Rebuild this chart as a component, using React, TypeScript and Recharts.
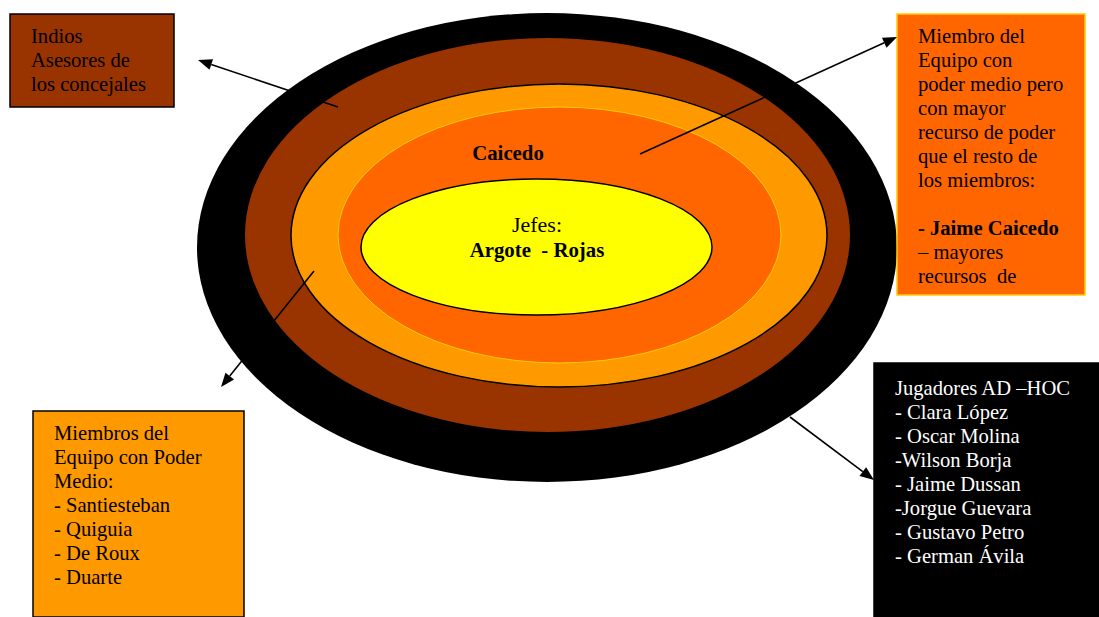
import React from 'react';
import { ComposedChart, XAxis, YAxis, ReferenceArea, ReferenceLine, Scatter } from 'recharts';

// ellipse rings, outer to inner (bounding boxes in diagram units)
const rings = [
  { key: 'adhoc', x1: 197, x2: 897, y1: 13, y2: 482 },
  { key: 'asesores', x1: 245, x2: 850, y1: 38, y2: 432 },
  { key: 'medio', x1: 291, x2: 827, y1: 84, y2: 387 },
  { key: 'caicedo', x1: 338, x2: 781, y1: 107, y2: 363 },
  { key: 'jefes', x1: 361, x2: 712, y1: 179, y2: 315 },
];

const indiosLines = ['Indios', 'Asesores de', 'los concejales'];
const caicedoLines = [
  'Miembro del',
  'Equipo con',
  'poder medio pero',
  'con mayor',
  'recurso de poder',
  'que el resto de',
  'los miembros:',
  '',
  '**- Jaime Caicedo',
  '– mayores',
  'recursos  de',
];
const adhocLines = [
  'Jugadores AD –HOC',
  '- Clara López',
  '- Oscar Molina',
  '-Wilson Borja',
  '- Jaime Dussan',
  '-Jorgue Guevara',
  '- Gustavo Petro',
  '- German Ávila',
];
const medioLines = [
  'Miembros del',
  'Equipo con Poder',
  'Medio:',
  '- Santiesteban',
  '- Quiguia',
  '- De Roux',
  '- Duarte',
];

const boxes = [
  { key: 'indios', x1: 10, x2: 174, y1: 14, y2: 107, lines: indiosLines },
  { key: 'caicedoBox', x1: 897, x2: 1085, y1: 14, y2: 295, lines: caicedoLines },
  { key: 'adhocBox', x1: 874, x2: 1099, y1: 363, y2: 617, lines: adhocLines },
  { key: 'medioBox', x1: 33, x2: 244, y1: 411, y2: 617, lines: medioLines },
];

const arrows = [
  { from: { x: 338, y: 107 }, to: { x: 198, y: 60 } },
  { from: { x: 640, y: 154 }, to: { x: 897, y: 37 } },
  { from: { x: 314, y: 271 }, to: { x: 221, y: 387 } },
  { from: { x: 790, y: 417 }, to: { x: 874, y: 480 } },
];

const centerLabels = [
  { x: 508, y: 160, text: 'Caicedo', kind: 'bold' },
  { x: 537, y: 232, text: 'Jefes:', kind: 'big' },
  { x: 537, y: 257, text: 'Argote  - Rojas', kind: 'bold' },
];

const FONT = '"Liberation Serif", "Times New Roman", serif';

const ringStyle: Record<string, { fill: string; stroke: string; sw: number }> = {
  adhoc: { fill: '#000000', stroke: 'none', sw: 0 },
  asesores: { fill: '#993300', stroke: 'none', sw: 0 },
  medio: { fill: '#FF9900', stroke: '#000000', sw: 1.5 },
  caicedo: { fill: '#FF6600', stroke: '#FFCC00', sw: 1 },
  jefes: { fill: '#FFFF00', stroke: '#000000', sw: 1.5 },
};

const boxStyle: Record<string, { fill: string; stroke: string; color: string; top: number }> = {
  indios: { fill: '#993300', stroke: '#000000', color: '#000000', top: 29 },
  caicedoBox: { fill: '#FF6600', stroke: '#FFCC00', color: '#000000', top: 29 },
  adhocBox: { fill: '#000000', stroke: '#000000', color: '#FFFFFF', top: 32 },
  medioBox: { fill: '#FF9900', stroke: '#000000', color: '#000000', top: 29 },
};

const EllipseShape = (ringKey: string) => (p: any) => {
  const s = ringStyle[ringKey];
  return (
    <ellipse
      cx={p.x + p.width / 2}
      cy={p.y + p.height / 2}
      rx={p.width / 2}
      ry={p.height / 2}
      fill={s.fill}
      stroke={s.stroke}
      strokeWidth={s.sw}
    />
  );
};

const BoxShape = (boxKey: string, lines: string[]) => (p: any) => {
  const s = boxStyle[boxKey];
  return (
    <g>
      <rect x={p.x} y={p.y} width={p.width} height={p.height} fill={s.fill} stroke={s.stroke} strokeWidth={1.5} />
      <text fontFamily={FONT} fontSize={20.6} fill={s.color} style={{ whiteSpace: 'pre' }}>
        {lines.map((l, i) => {
          const bold = l.startsWith('**');
          return (
            <tspan key={i} x={p.x + 21} y={p.y + s.top + i * 24} fontWeight={bold ? 'bold' : 'normal'}>
              {bold ? l.slice(2) : l}
            </tspan>
          );
        })}
      </text>
    </g>
  );
};

const ArrowShape = (p: any) => {
  const { x1, y1, x2, y2 } = p;
  const a = Math.atan2(y2 - y1, x2 - x1);
  const len = 14;
  const hw = 5.5;
  const bx = x2 - len * Math.cos(a);
  const by = y2 - len * Math.sin(a);
  const px = -Math.sin(a) * hw;
  const py = Math.cos(a) * hw;
  return (
    <g>
      <line x1={x1} y1={y1} x2={bx} y2={by} stroke="#000" strokeWidth={1.6} />
      <polygon points={`${x2},${y2} ${bx + px},${by + py} ${bx - px},${by - py}`} fill="#000" />
    </g>
  );
};

const LabelShape = (p: any) => {
  const d = p.payload;
  const big = d.kind === 'big';
  return (
    <text
      x={p.cx}
      y={p.cy}
      textAnchor="middle"
      fontFamily={FONT}
      fontSize={big ? 22 : 20.8}
      fontWeight={big ? 'normal' : 'bold'}
      fill="#000"
      style={{ whiteSpace: 'pre' }}
    >
      {d.text}
    </text>
  );
};

export default function App() {
  return (
    <div style={{ position: 'absolute', left: 0, top: 0, width: 1099, height: 617, background: '#fff' }}>
      <ComposedChart width={1099} height={617} margin={{ top: 0, right: 0, bottom: 0, left: 0 }} data={centerLabels}>
        <XAxis type="number" dataKey="x" domain={[0, 1099]} hide allowDataOverflow />
        <YAxis type="number" dataKey="y" domain={[0, 617]} reversed hide allowDataOverflow />
        {rings.map((r) => (
          <ReferenceArea
            key={r.key}
            x1={r.x1}
            x2={r.x2}
            y1={r.y1}
            y2={r.y2}
            ifOverflow="visible"
            shape={EllipseShape(r.key)}
          />
        ))}
        {boxes.map((b) => (
          <ReferenceArea
            key={b.key}
            x1={b.x1}
            x2={b.x2}
            y1={b.y1}
            y2={b.y2}
            ifOverflow="visible"
            shape={BoxShape(b.key, b.lines)}
          />
        ))}
        {arrows.map((a, i) => (
          <ReferenceLine key={i} segment={[a.from, a.to]} ifOverflow="visible" shape={ArrowShape} />
        ))}
        <Scatter data={centerLabels} dataKey="y" isAnimationActive={false} shape={LabelShape} />
      </ComposedChart>
    </div>
  );
}
